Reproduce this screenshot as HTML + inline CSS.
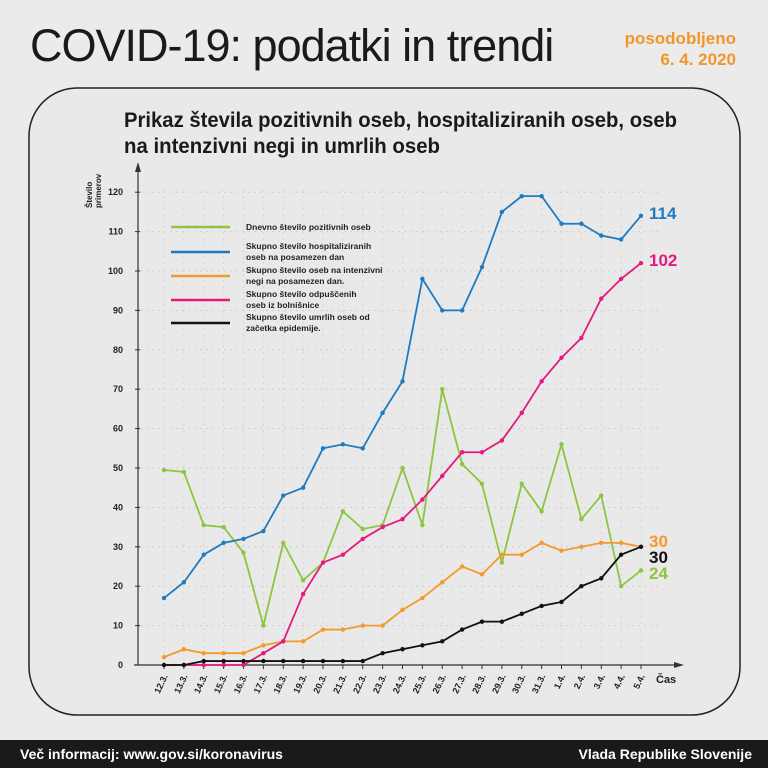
<!DOCTYPE html>
<html><head><meta charset="utf-8"><style>
html,body{margin:0;padding:0;background:#ebebeb;}
body{width:768px;height:768px;position:relative;overflow:hidden;font-family:"Liberation Sans Narrow","Liberation Sans",sans-serif;}
.t{position:absolute;left:30px;top:20px;font-size:45px;color:#1a1a1a;letter-spacing:-1px;}
.u{position:absolute;right:32px;top:28px;font-size:17px;font-weight:bold;color:#f0962a;text-align:right;line-height:21px;}
.foot{position:absolute;left:0;top:740px;width:768px;height:28px;background:#1a1a1a;color:#fff;font-size:14px;font-weight:bold;}
.foot span{position:absolute;top:6px;}
</style></head><body>
<div class="t">COVID-19: podatki in trendi</div>
<div class="u">posodobljeno<br>6. 4. 2020</div>
<svg id="s" width="768" height="768" style="position:absolute;left:0;top:0" xmlns="http://www.w3.org/2000/svg">
<rect x="29" y="88" width="711" height="627" rx="48" ry="48" fill="#e9e9e9" stroke="#222" stroke-width="1.5"/>
<text x="124" y="127" textLength="553" lengthAdjust="spacingAndGlyphs" font-family="Liberation Sans, sans-serif" font-weight="bold" font-size="21" fill="#1a1a1a">Prikaz števila pozitivnih oseb, hospitaliziranih oseb, oseb</text>
<text x="124" y="153" textLength="316" lengthAdjust="spacingAndGlyphs" font-family="Liberation Sans, sans-serif" font-weight="bold" font-size="21" fill="#1a1a1a">na intenzivni negi in umrlih oseb</text>
<g id="g"></g>
</svg>
<div class="foot"><span style="left:20px">Več informacij: www.gov.si/koronavirus</span><span style="right:16px">Vlada Republike Slovenije</span></div>
<script>
var g=document.getElementById('g'),h='';
function X(i){return 164+i*19.875}
function Y(v){return 665-v*3.94}
var F='font-family="Liberation Sans Narrow, Liberation Sans, sans-serif"';
for(var v=10;v<=120;v+=10){h+='<line x1="140" x2="660" y1="'+Y(v)+'" y2="'+Y(v)+'" stroke="#cfcfcf" stroke-dasharray="2,4"/>';}
for(var i=0;i<25;i++){h+='<line x1="'+X(i)+'" x2="'+X(i)+'" y1="190" y2="665" stroke="#d6d6d6" stroke-dasharray="2,4"/>';}
for(var v=0;v<=120;v+=10){h+='<text x="123" y="'+(Y(v)+3)+'" text-anchor="end" font-size="9" font-weight="bold" '+F+' fill="#222">'+v+'</text><line x1="135" x2="140" y1="'+Y(v)+'" y2="'+Y(v)+'" stroke="#333"/>';}
h+='<line x1="138" y1="665" x2="138" y2="170" stroke="#333" stroke-width="1.2"/><polygon points="138,162 135,172 141,172" fill="#333"/>';
h+='<line x1="134" y1="665" x2="676" y2="665" stroke="#333" stroke-width="1.2"/><polygon points="684,665 674,662 674,668" fill="#333"/>';
h+='<text transform="translate(92,208) rotate(-90)" font-size="8" font-weight="bold" '+F+' fill="#222"><tspan x="0" y="0">Število</tspan><tspan x="0" y="9">primerov</tspan></text>';
h+='<text x="656" y="683" font-size="11" font-weight="bold" '+F+' fill="#222">Čas</text>';
var d=['12.3.','13.3.','14.3.','15.3.','16.3.','17.3.','18.3.','19.3.','20.3.','21.3.','22.3.','23.3.','24.3.','25.3.','26.3.','27.3.','28.3.','29.3.','30.3.','31.3.','1.4.','2.4.','3.4.','4.4.','5.4.'];
for(var i=0;i<25;i++){h+='<line x1="'+X(i)+'" x2="'+X(i)+'" y1="665" y2="669" stroke="#333"/><text transform="translate('+(X(i)+4)+',676) rotate(-65)" text-anchor="end" font-size="9" font-weight="bold" '+F+' fill="#222">'+d[i]+'</text>';}
var S=[
['#8cc63f',[49.5,49,35.5,35,28.5,10,31,21.5,26,39,34.5,35.5,50,35.5,70,51,46,26,46,39,56,37,43,20,24]],
['#1f7bc1',[17,21,28,31,32,34,43,45,55,56,55,64,72,98,90,90,101,115,119,119,112,112,109,108,114]],
['#f39a2e',[2,4,3,3,3,5,6,6,9,9,10,10,14,17,21,25,23,28,28,31,29,30,31,31,30]],
['#e5197e',[0,0,0,0,0,3,6,18,26,28,32,35,37,42,48,54,54,57,64,72,78,83,93,98,102]],
['#111',[0,0,1,1,1,1,1,1,1,1,1,3,4,5,6,9,11,11,13,15,16,20,22,28,30]]];
S.forEach(function(s){var p=s[1].map(function(v,i){return X(i)+','+Y(v)}).join(' ');
h+='<polyline points="'+p+'" fill="none" stroke="'+s[0]+'" stroke-width="1.8"/>';
s[1].forEach(function(v,i){h+='<circle cx="'+X(i)+'" cy="'+Y(v)+'" r="2.2" fill="'+s[0]+'"/>';});});
var L=[['#8cc63f',['Dnevno število pozitivnih oseb'],227],['#1f7bc1',['Skupno število hospitaliziranih','oseb na posamezen dan'],252],['#f39a2e',['Skupno število oseb na intenzivni','negi na posamezen dan.'],276],['#e5197e',['Skupno število odpuščenih','oseb iz bolnišnice'],300],['#111',['Skupno število umrlih oseb od','začetka epidemije.'],323]];
L.forEach(function(l){h+='<line x1="171" x2="230" y1="'+l[2]+'" y2="'+l[2]+'" stroke="'+l[0]+'" stroke-width="2.5"/>';
l[1].forEach(function(t,k){var yy=l[1].length==1?l[2]+3:l[2]-3+k*11;h+='<text x="246" y="'+yy+'" font-size="8.5" font-weight="bold" '+F+' fill="#222">'+t+'</text>';});});
[['114','#1f7bc1',219],['102','#e5197e',266],['30','#f39a2e',547],['30','#111',563],['24','#8cc63f',579]].forEach(function(e){h+='<text x="649" y="'+e[2]+'" font-size="17" font-weight="bold" '+F+' fill="'+e[1]+'">'+e[0]+'</text>';});
g.innerHTML=h;
</script>
</body></html>
